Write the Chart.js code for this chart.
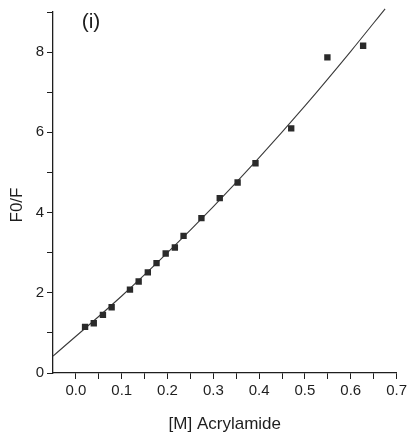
<!DOCTYPE html>
<html lang="en">
<head>
    <meta charset="UTF-8">
    <title>F0/F vs Acrylamide</title>
    <script src="https://cdn.jsdelivr.net/npm/chart.js"></script>
    <style>
        body { margin: 0; background: #fff; }
        canvas { display: block; }
    </style>
</head>
<body>
<canvas id="sternVolmer" width="410" height="439"></canvas>

<script>
const acrylamide = [0.02, 0.039, 0.059, 0.078, 0.118, 0.137, 0.157, 0.176, 0.196, 0.216,
                    0.235, 0.274, 0.314, 0.353, 0.392, 0.47, 0.549, 0.627];
const f0OverF = [1.15, 1.24, 1.45, 1.64, 2.08, 2.28, 2.51, 2.74, 2.98, 3.13,
                 3.42, 3.86, 4.36, 4.75, 5.23, 6.10, 7.87, 8.16];

// fitted curve
const fitX = [-0.05, 0.1, 0.2, 0.3, 0.4, 0.5, 0.6, 0.675];
const fitY = [0.42, 1.92, 3.0, 4.15, 5.37, 6.66, 8.02, 9.08];

const xTicks = ['0.0', '0.1', '0.2', '0.3', '0.4', '0.5', '0.6', '0.7'];
const yTicks = ['0', '2', '4', '6', '8'];

const ink = '#1e1e1e';
const family = '"Liberation Sans", Arial, sans-serif';
const font = { family: family, size: 15 };

// "(i)" panel label and the y title, placed like the original
const extraText = {
    id: 'extraText',
    afterDraw(chart) {
        const ctx = chart.ctx;
        ctx.save();
        ctx.fillStyle = ink;
        ctx.textAlign = 'center';
        ctx.textBaseline = 'middle';
        ctx.font = '21px ' + family;
        ctx.fillText('(i)', 91, 22);
        ctx.translate(17, 205);
        ctx.rotate(-Math.PI / 2);
        ctx.font = '17px ' + family;
        ctx.fillText('F0/F', 0, 0);
        ctx.restore();
    }
};

const ctx = document.getElementById('sternVolmer').getContext('2d');
new Chart(ctx, {
    type: 'scatter',
    data: {
        datasets: [
            {
                label: 'fit',
                type: 'line',
                data: fitX.map((x, i) => ({ x: x, y: fitY[i] })),
                borderColor: '#3a3a3a',
                borderWidth: 1.1,
                pointRadius: 0,
                cubicInterpolationMode: 'monotone',
                clip: 8,
                order: 2
            },
            {
                label: 'F0/F',
                data: acrylamide.map((x, i) => ({ x: x, y: f0OverF[i] })),
                pointStyle: 'rect',
                pointRadius: 4.5,
                backgroundColor: '#2a2a2a',
                borderColor: '#2a2a2a',
                borderWidth: 0,
                order: 1
            }
        ]
    },
    options: {
        responsive: false,
        animation: false,
        layout: { padding: { top: 10, right: 12, left: 0, bottom: 0 } },
        plugins: {
            legend: { display: false },
            tooltip: { enabled: false }
        },
        scales: {
            x: {
                type: 'linear',
                min: -0.05,
                max: 0.7,
                afterBuildTicks: s => {
                    const t = [];
                    for (let i = 0; i <= 14; i++) t.push({ value: i * 0.05 });
                    s.ticks = t;
                },
                afterFit: s => { s.height = 66; },
                ticks: {
                    color: ink,
                    font: font,
                    padding: 3,
                    maxRotation: 0,
                    autoSkip: false,
                    callback: v => {
                        const k = Math.round(v * 20);
                        return k % 2 === 0 ? xTicks[k / 2] : '';
                    }
                },
                grid: { drawOnChartArea: false, drawTicks: true, tickLength: 6, color: ink, lineWidth: 1 },
                border: { display: true, color: ink, width: 1.3 },
                title: {
                    display: true,
                    text: '[M] Acrylamide',
                    color: ink,
                    font: { family: family, size: 17 },
                    padding: { top: 6 }
                }
            },
            y: {
                min: 0,
                max: 9,
                afterBuildTicks: s => {
                    const t = [];
                    for (let i = 0; i <= 9; i++) t.push({ value: i });
                    s.ticks = t;
                },
                afterFit: s => { s.width = 53; },
                ticks: {
                    color: ink,
                    font: font,
                    padding: 3,
                    autoSkip: false,
                    callback: v => (v % 2 === 0 ? yTicks[v / 2] : '')
                },
                grid: { drawOnChartArea: false, drawTicks: true, tickLength: 6, color: ink, lineWidth: 1 },
                border: { display: true, color: ink, width: 1.3 }
            }
        }
    },
    plugins: [extraText]
});
</script>
</body>
</html>
